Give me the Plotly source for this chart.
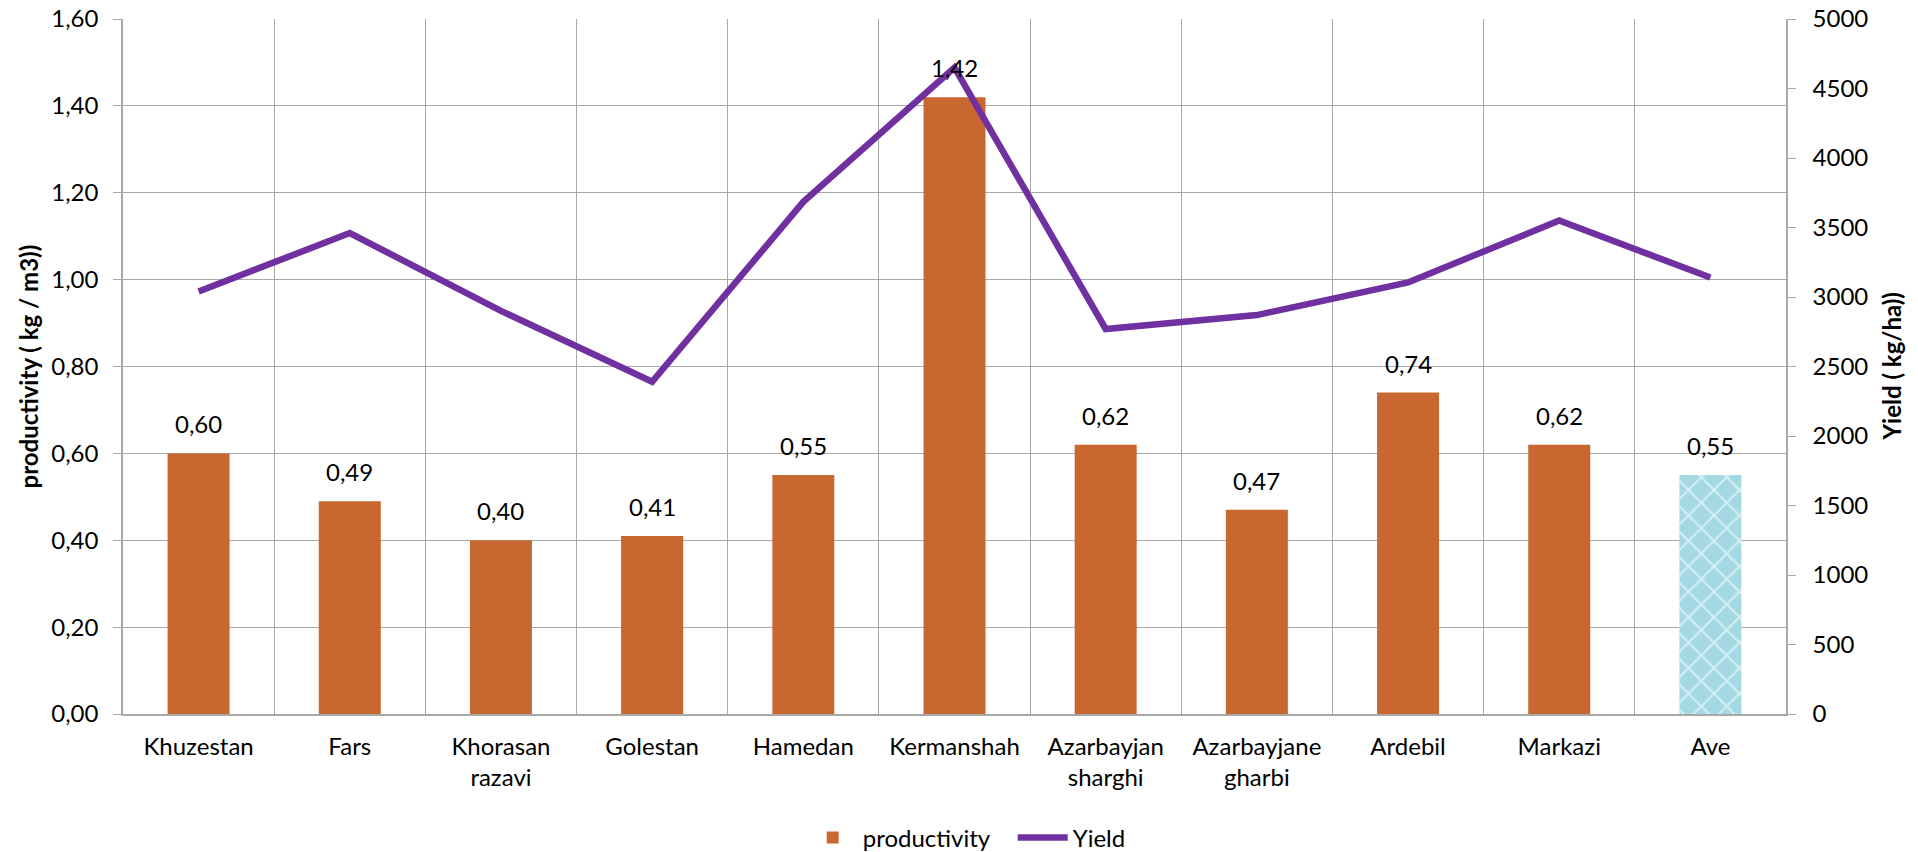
import plotly.graph_objects as go

categories = ["Khuzestan", "Fars", "Khorasan<br>razavi", "Golestan", "Hamedan",
              "Kermanshah", "Azarbayjan<br>sharghi", "Azarbayjane<br>gharbi",
              "Ardebil", "Markazi", "Ave"]
productivity = [0.60, 0.49, 0.40, 0.41, 0.55, 1.42, 0.62, 0.47, 0.74, 0.62, 0.55]
yield_kg_ha = [3040, 3460, 2900, 2390, 3685, 4650, 2770, 2870, 3105, 3550, 3140]

FONT = "Lato, Carlito, Calibri, sans-serif"
FS = 24
GRID = "#A8A8A8"
ORANGE = "#C86730"
AVE_BLUE = "#A4D9E3"
AVE_LIGHT = "#D3EFF4"
PURPLE = "#7030A0"

# plot-area geometry in pixels
W, H = 1918, 852
L, R, T, B = 123, 132, 19, 138
PW = W - L - R

fig = go.Figure()

# provincial bars
fig.add_trace(go.Bar(
    x=categories[:-1], y=productivity[:-1], name="productivity",
    width=0.41, marker=dict(color=ORANGE, line=dict(width=0)),
    yaxis="y",
))

# the average bar, textured light blue
fig.add_trace(go.Bar(
    x=categories[-1:], y=productivity[-1:], name="productivity",
    width=0.41, showlegend=False,
    marker=dict(
        color=AVE_BLUE, line=dict(width=0),
        pattern=dict(shape="x", fillmode="overlay", fgcolor=AVE_LIGHT,
                     fgopacity=1, size=18, solidity=0.22),
    ),
    yaxis="y",
))

fig.add_trace(go.Scatter(
    x=categories, y=yield_kg_ha, name="Yield",
    mode="lines", line=dict(color=PURPLE, width=6.5),
    yaxis="y2",
))

# value labels above each bar
for c, v in zip(categories, productivity):
    fig.add_annotation(
        x=c, y=v, xref="x", yref="y",
        text=f"{v:.2f}".replace(".", ","),
        showarrow=False, yanchor="bottom", yshift=13,
        font=dict(family=FONT, size=FS, color="black"),
    )

# axis titles
fig.add_annotation(
    x=(28 - L) / PW, y=0.5, xref="paper", yref="paper",
    text="<b>productivity ( kg / m3))</b>", textangle=-90, showarrow=False,
    xanchor="center", yanchor="middle",
    font=dict(family=FONT, size=FS, color="black"),
)
fig.add_annotation(
    x=(1891 - L) / PW, y=0.5, xref="paper", yref="paper",
    text="<b>Yield ( kg/ha))</b>", textangle=-90, showarrow=False,
    xanchor="center", yanchor="middle",
    font=dict(family=FONT, size=FS, color="black"),
)

fig.update_layout(
    width=W, height=H,
    margin=dict(l=L, r=R, t=T, b=B, autoexpand=False),
    paper_bgcolor="white", plot_bgcolor="white",
    separators=", ",
    font=dict(family=FONT, size=FS, color="black"),
    barmode="overlay",
    showlegend=True,
    legend=dict(orientation="h", xref="container", yref="container",
                x=0.528, xanchor="center", y=1 - 838 / H, yanchor="middle",
                font=dict(family=FONT, size=FS), itemwidth=50,
                traceorder="normal", entrywidth=145),
    xaxis=dict(
        categoryorder="array", categoryarray=categories,
        tickson="boundaries", showgrid=True, gridcolor=GRID, gridwidth=1,
        showline=True, linecolor=GRID, linewidth=1.5,
        ticks="", ticklabelstandoff=10, automargin=False,
        tickfont=dict(family=FONT, size=FS),
    ),
    yaxis=dict(
        range=[0, 1.6], dtick=0.2, tickformat=".2f",
        showgrid=True, gridcolor=GRID, gridwidth=1,
        showline=True, linecolor=GRID, linewidth=1.5,
        ticks="outside", ticklen=8, tickcolor=GRID, ticklabelstandoff=10,
        tickfont=dict(family=FONT, size=FS), automargin=False,
        zeroline=False,
    ),
    yaxis2=dict(
        overlaying="y", side="right",
        range=[0, 5000], dtick=500, tickformat="d",
        showgrid=False, showline=True, linecolor=GRID, linewidth=1.5,
        ticks="outside", ticklen=8, tickcolor=GRID, ticklabelstandoff=12,
        tickfont=dict(family=FONT, size=FS), automargin=False,
        zeroline=False,
    ),
)

fig.write_html("out.html")
